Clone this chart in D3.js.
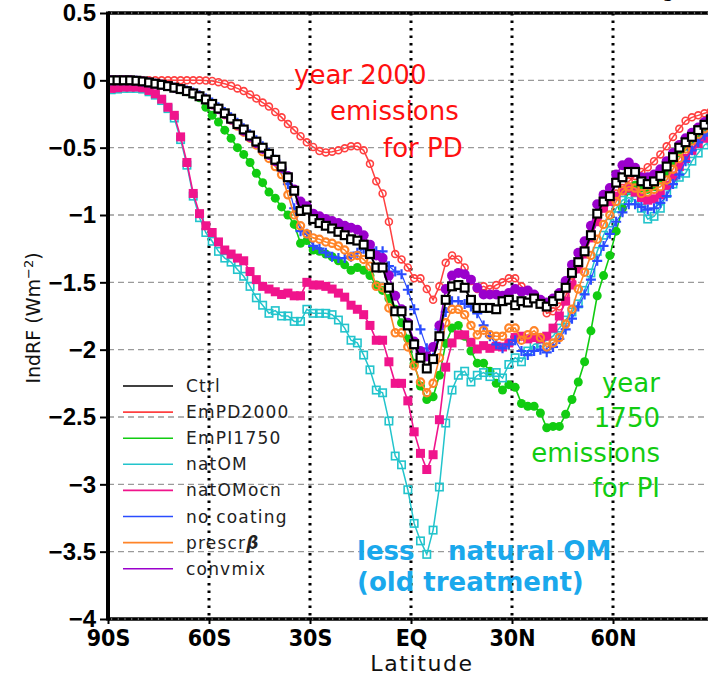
<!DOCTYPE html>
<html>
<head>
<meta charset="utf-8">
<script src="https://cdn.jsdelivr.net/npm/d3@7"></script>
<style>
  body { margin: 0; background: #fff; }
  svg { display: block; }
</style>
</head>
<body>
<div id="chart"></div>
<script>

// latitude grid (96 lats, 1.875 deg)
var lats = d3.range(96).map(function(j){ return -89.0625 + 1.875 * j; });

// IndRF (Wm-2) per latitude
var ctrl = [
	0, 0, 0, 0, -0.003, -0.008, -0.016, -0.025, -0.033, -0.043,
	-0.055, -0.065, -0.080, -0.097, -0.118, -0.142, -0.175, -0.21, -0.245, -0.285,
	-0.325, -0.365, -0.41, -0.455, -0.50, -0.545, -0.59, -0.64, -0.72, -0.82,
	-0.97, -0.96, -1.03, -1.06, -1.08, -1.10, -1.125, -1.15, -1.18, -1.19,
	-1.22, -1.29, -1.39, -1.39, -1.54, -1.715, -1.715, -1.82, -1.96, -2.06,
	-2.14, -2.07, -1.90, -1.63, -1.53, -1.52, -1.54, -1.63, -1.69, -1.69,
	-1.69, -1.70, -1.64, -1.63, -1.67, -1.64, -1.65, -1.62, -1.66, -1.68,
	-1.64, -1.60, -1.54, -1.43, -1.35, -1.27, -1.15, -0.99, -0.90, -0.86,
	-0.76, -0.72, -0.68, -0.68, -0.75, -0.77, -0.75, -0.71, -0.64, -0.57,
	-0.50, -0.46, -0.42, -0.37, -0.33, -0.29
];
var emPD2000 = [
	0, 0, 0, 0, 0, 0, 0, 0, 0, 0,
	0, 0, 0, 0, 0, -0.002, -0.005, -0.014, -0.026, -0.041,
	-0.06, -0.08, -0.105, -0.135, -0.165, -0.195, -0.235, -0.275, -0.325, -0.37,
	-0.415, -0.46, -0.495, -0.525, -0.535, -0.53, -0.52, -0.505, -0.49, -0.49,
	-0.52, -0.62, -0.75, -0.84, -1.05, -1.29, -1.33, -1.39, -1.47, -1.47,
	-1.55, -1.63, -1.53, -1.355, -1.30, -1.33, -1.39, -1.49, -1.55, -1.53,
	-1.55, -1.52, -1.50, -1.47, -1.47, -1.53, -1.56, -1.59, -1.63, -1.73,
	-1.715, -1.68, -1.60, -1.50, -1.38, -1.26, -1.13, -1.02, -0.94, -0.89,
	-0.84, -0.80, -0.75, -0.71, -0.68, -0.645, -0.60, -0.55, -0.49, -0.42,
	-0.36, -0.30, -0.275, -0.26, -0.245, -0.23
];
var emPI1750 = [
	0, 0, 0, 0, -0.003, -0.008, -0.016, -0.025, -0.035, -0.045,
	-0.058, -0.07, -0.085, -0.105, -0.13, -0.20, -0.26, -0.31, -0.37, -0.43,
	-0.50, -0.55, -0.61, -0.69, -0.76, -0.83, -0.875, -0.94, -1.00, -1.07,
	-1.21, -1.19, -1.26, -1.27, -1.29, -1.31, -1.34, -1.37, -1.41, -1.39,
	-1.41, -1.45, -1.52, -1.56, -1.62, -1.70, -1.80, -1.92, -2.10, -2.27,
	-2.37, -2.35, -2.19, -1.955, -1.84, -1.82, -1.90, -2.01, -2.10, -2.10,
	-2.16, -2.25, -2.30, -2.26, -2.28, -2.40, -2.42, -2.42, -2.47, -2.58,
	-2.57, -2.57, -2.48, -2.37, -2.24, -2.09, -1.86, -1.60, -1.45, -1.30,
	-1.12, -0.95, -0.82, -0.78, -0.80, -0.81, -0.79, -0.74, -0.68, -0.61,
	-0.54, -0.49, -0.45, -0.41, -0.37, -0.34
];
var natOM = [
	-0.07, -0.065, -0.06, -0.06, -0.06, -0.065, -0.085, -0.11, -0.15, -0.21,
	-0.28, -0.44, -0.63, -0.86, -1.02, -1.13, -1.195, -1.27, -1.32, -1.35,
	-1.405, -1.455, -1.53, -1.615, -1.67, -1.73, -1.71, -1.75, -1.75, -1.79,
	-1.79, -1.70, -1.73, -1.73, -1.73, -1.74, -1.78, -1.84, -1.93, -1.95,
	-2.04, -2.15, -2.30, -2.32, -2.53, -2.79, -2.855, -3.04, -3.29, -3.42,
	-3.52, -3.34, -3.02, -2.545, -2.30, -2.19, -2.16, -2.24, -2.19, -2.17,
	-2.20, -2.17, -2.21, -2.11, -2.06, -2.09, -2.01, -1.96, -1.95, -1.93,
	-1.90, -1.84, -1.78, -1.72, -1.66, -1.56, -1.43, -1.27, -1.15, -1.06,
	-0.95, -0.89, -0.87, -0.89, -0.95, -1.03, -1.01, -0.95, -0.84, -0.77,
	-0.72, -0.69, -0.60, -0.54, -0.48, -0.45
];
var natOMocn = [
	-0.06, -0.055, -0.05, -0.05, -0.05, -0.055, -0.075, -0.10, -0.14, -0.20,
	-0.26, -0.42, -0.61, -0.84, -0.99, -1.08, -1.13, -1.20, -1.26, -1.29,
	-1.32, -1.34, -1.42, -1.48, -1.53, -1.55, -1.57, -1.59, -1.58, -1.60,
	-1.60, -1.50, -1.52, -1.52, -1.53, -1.55, -1.58, -1.61, -1.67, -1.70,
	-1.74, -1.82, -1.93, -1.93, -2.09, -2.25, -2.25, -2.38, -2.61, -2.77,
	-2.89, -2.78, -2.52, -2.13, -1.95, -1.89, -1.89, -1.945, -1.995, -1.97,
	-1.99, -1.975, -1.98, -1.95, -1.91, -1.90, -1.92, -1.91, -1.92, -1.90,
	-1.84, -1.75, -1.64, -1.52, -1.40, -1.29, -1.17, -1.05, -0.95, -0.90,
	-0.86, -0.82, -0.80, -0.83, -0.87, -0.89, -0.88, -0.85, -0.78, -0.71,
	-0.64, -0.58, -0.52, -0.47, -0.43, -0.40
];
var noCoating = [
	0, 0, 0, 0, -0.003, -0.008, -0.016, -0.025, -0.033, -0.043,
	-0.055, -0.065, -0.075, -0.09, -0.11, -0.135, -0.165, -0.20, -0.235, -0.275,
	-0.315, -0.355, -0.40, -0.445, -0.49, -0.54, -0.59, -0.66, -0.77, -0.95,
	-1.12, -1.14, -1.23, -1.25, -1.28, -1.31, -1.32, -1.32, -1.31, -1.28,
	-1.25, -1.25, -1.27, -1.27, -1.38, -1.42, -1.44, -1.555, -1.70, -1.85,
	-1.99, -2.06, -1.85, -1.72, -1.64, -1.64, -1.66, -1.68, -1.73, -1.82,
	-1.90, -1.96, -1.99, -1.96, -1.93, -2.01, -2.04, -2.01, -2.00, -2.02,
	-1.98, -1.92, -1.85, -1.77, -1.68, -1.59, -1.48, -1.34, -1.23, -1.14,
	-1.05, -0.98, -0.92, -0.92, -0.94, -0.96, -0.95, -0.91, -0.86, -0.77,
	-0.70, -0.60, -0.52, -0.46, -0.41, -0.39
];
var prescrBeta = [
	0, 0, 0, 0, -0.003, -0.008, -0.016, -0.025, -0.033, -0.043,
	-0.055, -0.065, -0.080, -0.097, -0.118, -0.142, -0.18, -0.215, -0.255, -0.295,
	-0.34, -0.385, -0.43, -0.48, -0.53, -0.58, -0.64, -0.70, -0.85, -1.00,
	-1.08, -1.14, -1.17, -1.18, -1.20, -1.21, -1.23, -1.26, -1.31, -1.30,
	-1.33, -1.38, -1.53, -1.54, -1.69, -1.875, -1.875, -1.98, -2.12, -2.24,
	-2.32, -2.25, -2.06, -1.80, -1.70, -1.70, -1.74, -1.82, -1.89, -1.855,
	-1.89, -1.90, -1.90, -1.84, -1.84, -1.93, -1.89, -1.86, -1.91, -1.98,
	-1.95, -1.91, -1.81, -1.70, -1.55, -1.425, -1.30, -1.18, -1.07, -1.00,
	-0.90, -0.82, -0.79, -0.80, -0.84, -0.83, -0.81, -0.79, -0.74, -0.66,
	-0.58, -0.51, -0.45, -0.40, -0.36, -0.33
];
var convmix = [
	0, 0, 0, 0, -0.003, -0.008, -0.016, -0.025, -0.033, -0.043,
	-0.055, -0.065, -0.080, -0.097, -0.118, -0.142, -0.18, -0.215, -0.25, -0.29,
	-0.33, -0.375, -0.42, -0.465, -0.51, -0.555, -0.60, -0.65, -0.71, -0.81,
	-0.90, -0.935, -0.99, -1.01, -1.03, -1.045, -1.06, -1.08, -1.095, -1.11,
	-1.15, -1.22, -1.30, -1.32, -1.45, -1.60, -1.70, -1.80, -1.94, -2.01,
	-2.05, -1.98, -1.82, -1.55, -1.45, -1.43, -1.44, -1.48, -1.54, -1.59,
	-1.59, -1.59, -1.60, -1.58, -1.55, -1.57, -1.56, -1.59, -1.63, -1.65,
	-1.62, -1.58, -1.49, -1.37, -1.28, -1.195, -1.08, -0.92, -0.85, -0.80,
	-0.70, -0.63, -0.61, -0.65, -0.72, -0.72, -0.70, -0.66, -0.60, -0.54,
	-0.48, -0.43, -0.39, -0.35, -0.31, -0.28
];

// axis ticks
var xTicks = [-90, -60, -30, 0, 30, 60];
var xTickLabels = ["90S", "60S", "30S", "EQ", "30N", "60N"];
var yTicks = [0.5, 0, -0.5, -1, -1.5, -2, -2.5, -3, -3.5, -4];
var yGrid = [0, -0.5, -1, -1.5, -2, -2.5, -3, -3.5];
var xGrid = [-60, -30, 0, 30, 60];

// series (legend order)
var series = [
	{name: "Ctrl",        values: ctrl,       color: "#000000", marker: "square", filled: false, fill: "#fff", lw: 2,   sw: 2.2, ms: 10},
	{name: "EmPD2000",    values: emPD2000,   color: "#ff4040", marker: "circle", filled: false, fill: "none", lw: 1.5, sw: 1.6, ms: 8.5},
	{name: "EmPI1750",    values: emPI1750,   color: "#11cc11", marker: "circle", filled: true,  lw: 1.6, ms: 9},
	{name: "natOM",       values: natOM,      color: "#22c4cc", marker: "square", filled: false, fill: "none", lw: 1.5, sw: 1.6, ms: 9},
	{name: "natOMocn",    values: natOMocn,   color: "#f0148c", marker: "square", filled: true,  lw: 1.6, ms: 9},
	{name: "no coating",  values: noCoating,  color: "#2a4cff", marker: "plus",   filled: false, lw: 1.2, sw: 2.2, ms: 10},
	{name: "prescr",      values: prescrBeta, color: "#ff8428", marker: "circle", filled: false, fill: "none", lw: 1.6, sw: 2.2, ms: 9.5},
	{name: "convmix",     values: convmix,    color: "#9a00cc", marker: "circle", filled: true,  lw: 1.6, ms: 10}
];
// which is drawn first (Ctrl on top)
var drawOrder = [1, 2, 3, 4, 5, 6, 7, 0];

var W = 708, H = 678;
var margin = {top: 13, left: 108},
	plotW = 606, plotH = 606;

var x = d3.scaleLinear().domain([-90, 90]).range([margin.left, margin.left + plotW]);
var y = d3.scaleLinear().domain([-4, 0.5]).range([margin.top + plotH, margin.top]);

var svg = d3.select("#chart").append("svg")
	.attr("width", W)
	.attr("height", H)
	.style("background", "#fff");

svg.append("defs").append("clipPath").attr("id", "plotclip")
	.append("rect")
		.attr("x", margin.left).attr("y", 0)
		.attr("width", plotW).attr("height", H);

// partial title, cut off at the top edge as in the original
svg.append("text")
	.attr("x", 662).attr("y", -3)
	.style("font-family", "DejaVu Sans, sans-serif")
	.style("font-size", "20px")
	.text("g");

// grid lines
var grid = svg.append("g");
grid.selectAll("line.h").data(yGrid).enter().append("line")
	.attr("class", "h")
	.attr("x1", margin.left).attr("x2", W)
	.attr("y1", function(d){ return y(d); })
	.attr("y2", function(d){ return y(d); })
	.attr("stroke", "#9a9a9a")
	.attr("stroke-width", 1.3)
	.attr("stroke-dasharray", "6,4");

grid.selectAll("line.v").data(xGrid).enter().append("line")
	.attr("class", "v")
	.attr("x1", function(d){ return x(d); })
	.attr("x2", function(d){ return x(d); })
	.attr("y1", y(0.5)).attr("y2", y(-4))
	.attr("stroke", "#000")
	.attr("stroke-width", 3)
	.attr("stroke-dasharray", "2.5,5");

// curves
var plot = svg.append("g").attr("clip-path", "url(#plotclip)");

var line = d3.line()
	.x(function(d){ return x(d.lat); })
	.y(function(d){ return y(d.v); });

drawOrder.forEach(function(k){
	var s = series[k];
	var pts = lats.map(function(lat, i){ return {lat: lat, v: s.values[i]}; });
	var g = plot.append("g");

	g.append("path")
		.datum(pts)
		.attr("d", line)
		.attr("fill", "none")
		.attr("stroke", s.color)
		.attr("stroke-width", s.lw);

	var h = s.ms / 2;
	if (s.marker == "circle") {
		g.selectAll("circle").data(pts).enter().append("circle")
			.attr("cx", function(d){ return x(d.lat); })
			.attr("cy", function(d){ return y(d.v); })
			.attr("r", s.filled ? h : h - s.sw / 2)
			.attr("fill", s.filled ? s.color : s.fill)
			.attr("stroke", s.filled ? "none" : s.color)
			.attr("stroke-width", s.sw || 0);
	} else if (s.marker == "square") {
		var side = s.filled ? s.ms : s.ms - s.sw;
		g.selectAll("rect").data(pts).enter().append("rect")
			.attr("x", function(d){ return x(d.lat) - side / 2; })
			.attr("y", function(d){ return y(d.v) - side / 2; })
			.attr("width", side).attr("height", side)
			.attr("fill", s.filled ? s.color : s.fill)
			.attr("stroke", s.filled ? "none" : s.color)
			.attr("stroke-width", s.sw || 0);
	} else {
		g.selectAll("path.plus").data(pts).enter().append("path")
			.attr("class", "plus")
			.attr("d", "M" + (-h) + ",0H" + h + "M0," + (-h) + "V" + h)
			.attr("transform", function(d){ return "translate(" + x(d.lat) + "," + y(d.v) + ")"; })
			.attr("stroke", s.color)
			.attr("stroke-width", s.sw);
	}
});

// frame: top and bottom borders
[0.5, -4].forEach(function(v){
	svg.append("line")
		.attr("x1", margin.left).attr("x2", W)
		.attr("y1", y(v)).attr("y2", y(v))
		.attr("stroke", "#000").attr("stroke-width", 3.5);
	svg.append("line")
		.attr("x1", margin.left + 3).attr("x2", W)
		.attr("y1", y(v)).attr("y2", y(v))
		.attr("stroke", "#fff").attr("stroke-width", 0.8)
		.attr("stroke-dasharray", "1.2,5.5");
});

// y axis
var yAxis = d3.axisLeft(y)
	.tickValues(yTicks)
	.tickSize(8)
	.tickPadding(4)
	.tickFormat(d3.format("~g"));

var gy = svg.append("g")
	.attr("transform", "translate(" + margin.left + ",0)")
	.call(yAxis);
gy.select(".domain").remove();
gy.selectAll(".tick line").attr("stroke", "#000").attr("stroke-width", 2);
gy.selectAll(".tick text")
	.style("font-family", "Liberation Sans, Arial, sans-serif")
	.style("font-weight", "bold")
	.style("font-size", "24px")
	.attr("fill", "#000");

svg.append("line")
	.attr("x1", margin.left).attr("x2", margin.left)
	.attr("y1", y(0.5) - 1.5).attr("y2", y(-4) + 1.5)
	.attr("stroke", "#000").attr("stroke-width", 4);

// x axis
var xAxis = d3.axisBottom(x)
	.tickValues(xTicks)
	.tickSize(5)
	.tickPadding(6)
	.tickFormat(function(d, i){ return xTickLabels[i]; });

var gx = svg.append("g")
	.attr("transform", "translate(0," + y(-4) + ")")
	.call(xAxis);
gx.select(".domain").remove();
gx.selectAll(".tick line").attr("stroke", "#000").attr("stroke-width", 2);
gx.selectAll(".tick text")
	.style("font-family", "Liberation Sans Narrow, DejaVu Sans Condensed, Arial Narrow, sans-serif")
	.style("font-weight", "bold")
	.style("font-size", "23px")
	.attr("fill", "#000");

// axis titles
svg.append("text")
	.attr("x", x(0) + 11).attr("y", 671)
	.attr("text-anchor", "middle")
	.style("font-family", "DejaVu Sans, sans-serif")
	.style("font-size", "22px")
	.style("letter-spacing", "1.6px")
	.attr("fill", "#111")
	.text("Latitude");

var yt = svg.append("text")
	.attr("transform", "translate(40,318) rotate(-90)")
	.attr("text-anchor", "middle")
	.style("font-family", "DejaVu Sans, sans-serif")
	.style("font-size", "19px")
	.attr("fill", "#111");
yt.append("tspan").text("IndRF (Wm");
yt.append("tspan").attr("dy", -7).style("font-size", "13px").text("\u22122");
yt.append("tspan").attr("dy", 7).text(")");

// legend
var legend = svg.append("g");
series.forEach(function(s, i){
	var ly = 386 + i * 26.1;
	legend.append("line")
		.attr("x1", 123).attr("x2", 173)
		.attr("y1", ly).attr("y2", ly)
		.attr("stroke", s.color).attr("stroke-width", 1.6);
	var t = legend.append("text")
		.attr("x", 186).attr("y", ly + 6)
		.style("font-family", "DejaVu Sans, sans-serif")
		.style("font-size", "17px")
		.style("letter-spacing", "1.2px")
		.attr("fill", "#222")
		.text(s.name);
	if (s.name == "prescr") {
		t.append("tspan").style("font-style", "italic").style("font-weight", "bold").text("\u03b2");
	}
});

// annotations
function note(txt, xx, yy, color, anchor, bold) {
	svg.append("text")
		.attr("x", xx).attr("y", yy)
		.attr("text-anchor", anchor || "start")
		.style("font-family", "DejaVu Sans, sans-serif")
		.style("font-size", "26px")
		.style("font-weight", bold ? "bold" : "normal")
		.attr("fill", color)
		.text(txt);
}
note("year 2000", 294, 84, "#ff1010");
note("emissions", 330, 120, "#ff1010");
note("for PD", 383, 157, "#ff1010");

note("year", 660, 392, "#11cc11", "end");
note("1750", 660, 427, "#11cc11", "end");
note("emissions", 660, 462, "#11cc11", "end");
note("for PI", 660, 497, "#11cc11", "end");

note("less", 357, 560, "#1aa8ec", "start", true);
note("natural OM", 448, 560, "#1aa8ec", "start", true);
note("(old treatment)", 357, 591, "#1aa8ec", "start", true);

</script>
</body>
</html>
